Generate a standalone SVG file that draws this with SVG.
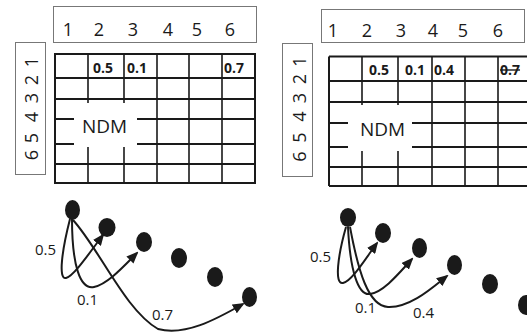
<svg xmlns="http://www.w3.org/2000/svg" width="527" height="336" viewBox="0 0 527 336">
<style>
.hdr{fill:#fff;stroke:#777;stroke-width:1}
.hd{font-family:"Open Sans","Liberation Sans",sans-serif;font-size:18px;fill:#1a1a1a;text-anchor:middle}
.g{stroke:#1a1a1a;stroke-width:2;fill:none}
.gv{stroke:#1a1a1a;stroke-width:1.6;fill:none}
.cv{font-family:"Open Sans","Liberation Sans",sans-serif;font-size:14px;font-weight:bold;fill:#1a1a1a}
.ndm{font-family:"Open Sans","Liberation Sans",sans-serif;font-size:19px;fill:#1a1a1a}
.nd{fill:#1a1a1a}
.e{fill:none;stroke:#1a1a1a;stroke-width:2}
.lb{font-family:"Open Sans","Liberation Sans",sans-serif;font-size:15px;fill:#1a1a1a}
</style>
<defs>
<marker id="ah" markerUnits="userSpaceOnUse" markerWidth="12" markerHeight="10" refX="10" refY="5" orient="auto">
<path d="M0,0 L12,5 L0,10 z" fill="#1a1a1a"/>
</marker>
</defs>

<!-- LEFT MATRIX -->
<g id="left-col-header">
<rect class="hdr" x="53.5" y="6.5" width="203" height="36"/>
<text class="hd" x="68" y="36">1</text>
<text class="hd" x="99" y="36">2</text>
<text class="hd" x="133" y="36">3</text>
<text class="hd" x="168" y="36">4</text>
<text class="hd" x="197" y="36">5</text>
<text class="hd" x="230" y="36">6</text>
</g>
<g id="left-row-header">
<rect class="hdr" x="15.5" y="42.5" width="30" height="132"/>
<text class="hd" transform="translate(38,62) rotate(-90)">1</text>
<text class="hd" transform="translate(38,80) rotate(-90)">2</text>
<text class="hd" transform="translate(38,98) rotate(-90)">3</text>
<text class="hd" transform="translate(38,117) rotate(-90)">4</text>
<text class="hd" transform="translate(38,138) rotate(-90)">5</text>
<text class="hd" transform="translate(38,155) rotate(-90)">6</text>
</g>
<g id="left-grid">
<rect class="g" x="55" y="54" width="200" height="129"/>
<path class="g" d="M55,78H255M55,99H255M55,164H255M55,119H74M137,119H255M55,144H74M137,144H255"/>
<path class="gv" d="M88,54V103M88,147V183M124,54V103M124,147V183M157,54V183M189,54V183M222,54V183"/>
<text class="cv" x="93" y="73">0.5</text>
<text class="cv" x="127" y="73">0.1</text>
<text class="cv" x="224" y="73">0.7</text>
<text class="ndm" x="82" y="133">NDM</text>
</g>

<!-- RIGHT MATRIX -->
<g id="right-col-header">
<rect class="hdr" x="321.5" y="9.5" width="203" height="33"/>
<text class="hd" x="333" y="37">1</text>
<text class="hd" x="367" y="37">2</text>
<text class="hd" x="401" y="37">3</text>
<text class="hd" x="433" y="37">4</text>
<text class="hd" x="463" y="37">5</text>
<text class="hd" x="498" y="37">6</text>
</g>
<g id="right-row-header">
<rect class="hdr" x="282.5" y="43.5" width="30" height="133"/>
<text class="hd" transform="translate(306,61.5) rotate(-90)">1</text>
<text class="hd" transform="translate(306,79) rotate(-90)">2</text>
<text class="hd" transform="translate(306,98) rotate(-90)">3</text>
<text class="hd" transform="translate(306,116.5) rotate(-90)">4</text>
<text class="hd" transform="translate(306,137.5) rotate(-90)">5</text>
<text class="hd" transform="translate(306,156.5) rotate(-90)">6</text>
</g>
<g id="right-grid">
<path class="g" d="M329,56.5H530M329,186H530M329,56.5V186"/>
<path class="g" d="M329,81H530M329,102H530M329,167H530M329,123H348M412,123H530M329,147H348M412,147H530"/>
<path class="gv" d="M362,56V105M362,151V186M398,56V105M398,151V186M432,56V186M465,56V186M498,56V186"/>
<text class="cv" x="369" y="75">0.5</text>
<text class="cv" x="405" y="75">0.1</text>
<text class="cv" x="434" y="75">0.4</text>
<text class="cv" x="500" y="75" text-decoration="line-through">0.7</text>
<text class="ndm" x="360" y="136">NDM</text>
</g>

<!-- LEFT GRAPH -->
<g id="L1"><ellipse class="nd" cx="72.5" cy="210" rx="7.5" ry="10"/></g>
<g id="L2"><ellipse class="nd" cx="107" cy="227.5" rx="8.5" ry="9.5"/></g>
<g id="L3"><ellipse class="nd" cx="144" cy="242" rx="8" ry="10"/></g>
<g id="L4"><ellipse class="nd" cx="179" cy="258" rx="8" ry="10"/></g>
<g id="L5"><ellipse class="nd" cx="215" cy="277" rx="8" ry="10"/></g>
<g id="L6"><ellipse class="nd" cx="249.5" cy="297" rx="7.5" ry="10"/></g>

<!-- RIGHT GRAPH -->
<g id="R1"><ellipse class="nd" cx="348" cy="217.5" rx="8" ry="9.5"/></g>
<g id="R2"><ellipse class="nd" cx="383" cy="233" rx="8" ry="10"/></g>
<g id="R3"><ellipse class="nd" cx="419.5" cy="248" rx="7.5" ry="10"/></g>
<g id="R4"><ellipse class="nd" cx="454.5" cy="265" rx="7.5" ry="10"/></g>
<g id="R5"><ellipse class="nd" cx="490" cy="284" rx="8" ry="10"/></g>
<g id="R6"><ellipse class="nd" cx="526" cy="305" rx="8" ry="10"/></g>

<g id="connectors">
<path class="e" marker-end="url(#ah)" d="M70,219 C62,250 58,280 66,278 C74,276 90,252 103,235"/>
<path class="e" marker-end="url(#ah)" d="M72,219 C72,265 80,290 94,287 C108,284 124,266 137,253"/>
<path class="e" marker-end="url(#ah)" d="M73,220 C100,250 125,310 158,329 C185,336 215,320 243,304"/>
<path class="e" marker-end="url(#ah)" d="M346,227 C338,255 334,285 343,283 C352,281 366,258 377,243"/>
<path class="e" marker-end="url(#ah)" d="M348,227 C350,270 358,296 370,294 C384,292 400,272 412,259"/>
<path class="e" marker-end="url(#ah)" d="M350,227 C358,270 368,306 388,307 C410,308 432,288 447,276"/>
<text class="lb" x="35" y="255">0.5</text>
<text class="lb" x="77" y="305">0.1</text>
<text class="lb" x="152" y="320">0.7</text>
<text class="lb" x="310" y="262">0.5</text>
<text class="lb" x="355" y="313">0.1</text>
<text class="lb" x="413" y="318">0.4</text>
</g>
</svg>
